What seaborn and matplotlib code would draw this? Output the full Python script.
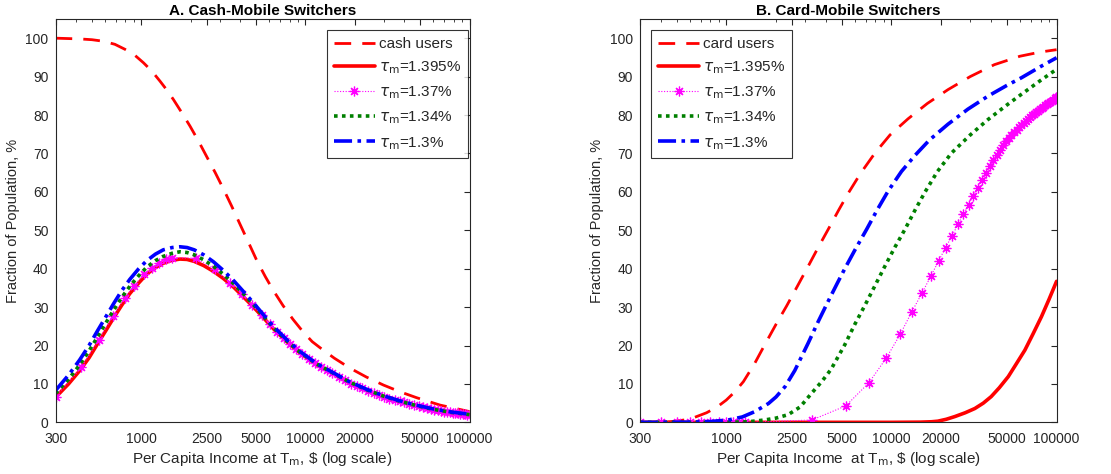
import numpy as np
import pandas as pd
import matplotlib
matplotlib.use("Agg")
import matplotlib.pyplot as plt
import matplotlib.ticker as mticker
import seaborn as sns

# ---------------- data ----------------
# Panel A: cash-mobile switchers
xA = [300, 360, 420, 480, 540, 610, 680, 760, 850, 960, 1080, 1220, 1360, 1540,
      1720, 1900, 2100, 2400, 2750, 3150, 3650, 4200, 4800, 5500, 6400, 7700,
      9300, 11700, 14800, 18500, 23600, 30000, 37600, 47000, 60000, 77000, 100000]
A_1395 = [6.5, 10.0, 13.4, 16.8, 20.4, 24.0, 27.3, 30.5, 33.5, 36.2, 38.6, 40.3,
          41.4, 42.2, 42.5, 42.4, 41.9, 40.8, 39.3, 37.5, 35.2, 32.6, 30.1, 27.4,
          24.3, 21.0, 18.0, 15.0, 12.6, 10.3, 8.3, 6.7, 5.4, 4.3, 3.3, 2.5, 1.9]
A_134 = [7.5, 11.2, 14.9, 18.6, 22.2, 26.0, 29.3, 32.5, 35.4, 38.1, 40.4, 42.1,
         43.2, 44.0, 44.4, 44.2, 43.6, 42.3, 40.6, 38.6, 36.1, 33.4, 30.7, 27.8,
         24.6, 21.2, 18.2, 15.2, 12.8, 10.5, 8.5, 6.8, 5.5, 4.4, 3.4, 2.6, 2.0]
A_13 = [8.3, 12.3, 16.2, 20.0, 23.8, 27.6, 31.0, 34.3, 37.2, 39.9, 42.1, 43.8,
        44.9, 45.5, 45.7, 45.5, 44.9, 43.6, 41.8, 39.6, 36.9, 34.0, 31.2, 28.2,
        24.9, 21.5, 18.4, 15.3, 12.9, 10.6, 8.6, 6.9, 5.6, 4.5, 3.5, 2.7, 2.1]
cash_x = [300, 423, 500, 587, 690, 795, 910, 1030, 1160, 1300, 1430, 1570, 1770,
          1980, 2230, 2500, 2820, 3160, 3550, 4000, 4500, 5070, 5700, 6400, 7300,
          8400, 9700, 11000, 12300, 15000, 18700, 23500, 29900, 38000, 47700,
          66000, 100000]
cash_users = [100.0, 99.8, 99.6, 99.2, 98.4, 97.1, 95.6, 93.6, 91.4, 88.8, 86.5,
              84.0, 80.5, 77.1, 73.2, 69.2, 65.0, 60.8, 56.3, 51.5, 46.8, 42.0,
              37.9, 34.2, 30.4, 26.8, 23.5, 21.0, 19.4, 16.7, 14.1, 11.8, 9.7,
              7.9, 6.4, 4.5, 2.8]
A137_x = [300, 430, 550, 670, 790, 900, 1040, 1160, 1290, 1410, 1530, 2150, 2810,
          3480, 4100, 4750, 5400, 6050, 6700, 7400, 8100, 8800, 9500, 10500,
          11500, 12500, 13500, 14500, 16000, 17500, 19000, 20500, 22000, 24000,
          26000, 28000, 30000, 32500, 35000, 37500, 40000, 43000, 46000, 49000,
          52000, 55000, 58000, 61000, 64000, 67000, 70000, 73000, 76000, 79000,
          82000, 85000, 88000, 91000, 94000, 97000, 100000]
A_137 = [6.7, 14.3, 21.5, 27.6, 32.3, 35.5, 38.6, 40.3, 41.6, 42.4, 42.9, 42.7,
         39.8, 36.3, 33.3, 30.6, 28.0, 25.7, 23.6, 21.9, 20.4, 19.1, 17.9, 16.6,
         15.4, 14.5, 13.6, 12.9, 11.9, 10.9, 10.1, 9.5, 8.9, 8.2, 7.6, 7.1, 6.7,
         6.2, 5.8, 5.5, 5.2, 4.8, 4.5, 4.2, 3.9, 3.7, 3.5, 3.3, 3.1, 3.0, 2.8,
         2.7, 2.6, 2.5, 2.4, 2.3, 2.2, 2.1, 2.05, 2.0, 1.95]

# Panel B: card-mobile switchers
card_x = [300, 450, 600, 760, 880, 1000, 1130, 1270, 1480, 1710, 2000, 2320, 2700,
          3130, 3600, 4150, 4800, 5470, 6500, 7950, 9800, 12600, 16500, 22000,
          30000, 42000, 60000, 80000, 100000]
card_users = [0.0, 0.1, 0.8, 2.5, 4.0, 5.8, 8.0, 10.6, 15.2, 20.2, 25.5, 30.3,
              35.5, 40.6, 45.5, 50.3, 55.3, 59.6, 64.8, 70.1, 74.8, 79.0, 83.0,
              86.6, 90.0, 93.1, 95.3, 96.4, 97.0]
B13_x = [300, 600, 800, 1025, 1250, 1490, 1800, 2000, 2270, 2600, 3130, 3600,
         4150, 4700, 5220, 6000, 7090, 8200, 9550, 11500, 13900, 17000, 22000,
         29000, 38400, 50000, 61300, 80000, 100000]
B_13 = [0.0, 0.05, 0.2, 0.6, 1.4, 2.8, 4.9, 6.6, 9.3, 13.5, 20.6, 26.2, 31.6,
        36.2, 40.0, 44.8, 50.3, 55.3, 60.2, 65.3, 69.5, 73.5, 77.6, 81.5, 84.9,
        87.7, 89.7, 92.6, 94.9]
B134_x = [300, 800, 1100, 1360, 1700, 2000, 2370, 2800, 3290, 3800, 4310, 5220,
          6000, 6900, 8000, 9120, 10500, 12100, 14000, 16000, 19000, 23100, 30000,
          38400, 50000, 61300, 80000, 100000]
B_134 = [0.0, 0.0, 0.05, 0.15, 0.6, 1.1, 2.0, 4.0, 7.6, 10.7, 13.8, 20.2, 25.5,
         30.4, 35.8, 40.6, 45.6, 50.3, 55.5, 60.0, 65.3, 70.1, 74.8, 78.8, 82.6,
         85.4, 89.0, 91.9]
B1395_x = [300, 10000, 15000, 17500, 19100, 21500, 24200, 28000, 32000, 36000,
           40200, 45000, 51000, 57000, 64300, 72000, 81000, 90000, 100000]
B_1395 = [0.0, 0.0, 0.05, 0.15, 0.3, 0.8, 1.5, 2.5, 3.6, 5.0, 6.7, 9.0, 11.9,
          15.2, 18.8, 23.0, 27.5, 32.0, 36.7]
B137_x = [300, 400, 500, 600, 700, 800, 900, 1000, 1100, 1200, 1300, 3300, 5300,
          7300, 9300, 11300, 13300, 15300, 17300, 19300, 21300, 23300, 25300,
          27300, 29300, 31300, 33300, 35300, 37300, 39300, 41300, 43300, 45300,
          47300, 49300, 51300, 53300, 55300, 57300, 59300, 61300, 63300, 65300,
          67300, 69300, 71300, 73300, 75300, 77300, 79300, 81300, 83300, 85300,
          87300, 89300, 91300, 93300, 95300, 97300, 99300]
B_137 = [0, 0, 0, 0, 0, 0, 0, 0, 0, 0, 0, 0.6, 4.3, 10.3, 16.7, 22.9, 28.8, 33.6,
         38.0, 42.0, 45.5, 48.6, 51.5, 54.2, 56.7, 59.0, 61.1, 63.1, 64.9, 66.6,
         68.2, 69.6, 70.9, 72.1, 73.2, 74.0, 74.8, 75.5, 76.2, 76.8, 77.4, 78.0,
         78.5, 79.0, 79.5, 79.9, 80.3, 80.7, 81.1, 81.5, 81.9, 82.2, 82.5, 82.8,
         83.1, 83.4, 83.7, 84.0, 84.3, 84.6]

xticks = [300, 1000, 2500, 5000, 10000, 20000, 50000, 100000]
xticklabels = ["300", "1000", "2500", "5000", "10000", "20000", "50000", "100000"]
yticks = list(range(0, 101, 10))

# ---------------- style ----------------
sns.set_style("white")
plt.rcParams['font.family'] = ['Liberation Sans', 'DejaVu Sans']
plt.rcParams['mathtext.fontset'] = 'dejavusans'
txt = '#262626'

fig = plt.figure(figsize=(11.11, 4.74), dpi=100)
axA = fig.add_axes([0.050, 0.109, 0.3726, 0.851])
axB = fig.add_axes([0.576, 0.109, 0.375, 0.851])

def draw(ax, x, y, label, **kw):
    sns.lineplot(x=x, y=y, ax=ax, label=label, sort=False, estimator=None, **kw)

lbl = [r'$\tau_{\rm m}$=1.395%', r'$\tau_{\rm m}$=1.37%', r'$\tau_{\rm m}$=1.34%', r'$\tau_{\rm m}$=1.3%']
dash_red = (0, (6, 4))
dot_green = (0, (1, 1.2))
dashdot_blue = (0, (5, 1.5, 1, 1.5))
mag_kw = dict(color='#ff00ff', linestyle=(0, (1, 1.5)), linewidth=0.8,
              marker=(8, 2, 0), markersize=7, markeredgewidth=0.9,
              markeredgecolor='#ff00ff', markerfacecolor='#ff00ff')

# Panel A
draw(axA, cash_x, cash_users, 'cash users', color='#ff0000', linestyle=dash_red, linewidth=2)
draw(axA, xA, A_1395, lbl[0], color='#ff0000', linestyle='-', linewidth=2.6)
draw(axA, A137_x, A_137, lbl[1], **mag_kw)
draw(axA, xA, A_134, lbl[2], color='#008000', linestyle=dot_green, linewidth=2.6)
draw(axA, xA, A_13, lbl[3], color='#0000ff', linestyle=dashdot_blue, linewidth=2.6)

# Panel B
draw(axB, card_x, card_users, 'card users', color='#ff0000', linestyle=dash_red, linewidth=2)
draw(axB, B1395_x, B_1395, lbl[0], color='#ff0000', linestyle='-', linewidth=2.6)
draw(axB, B137_x, B_137, lbl[1], **mag_kw)
draw(axB, B134_x, B_134, lbl[2], color='#008000', linestyle=dot_green, linewidth=2.6)
draw(axB, B13_x, B_13, lbl[3], color='#0000ff', linestyle=dashdot_blue, linewidth=2.6)

for ax, title, xl, loc, anchor in [
    (axA, 'A. Cash-Mobile Switchers', r'Per Capita Income at T$_{\rm m}$, \$ (log scale)',
     'upper right', (0.996, 0.972)),
    (axB, 'B. Card-Mobile Switchers', r'Per Capita Income  at T$_{\rm m}$, \$ (log scale)',
     'upper left', (0.027, 0.972))]:
    ax.set_xscale('log')
    ax.set_xlim(300, 100000)
    ax.set_ylim(0, 105)
    ax.set_xticks(xticks)
    ax.set_xticklabels(xticklabels)
    ax.xaxis.set_minor_locator(mticker.LogLocator(base=10, subs=np.arange(2, 10)))
    ax.xaxis.set_minor_formatter(mticker.NullFormatter())
    ax.set_yticks(yticks)
    ax.tick_params(axis='both', which='both', direction='in', top=True, right=True,
                   colors=txt, labelsize=10)
    ax.tick_params(axis='x', which='major', pad=7)
    ax.tick_params(axis='y', which='major', pad=5)
    ax.tick_params(which='major', length=4, width=0.8)
    ax.tick_params(which='minor', length=2, width=0.6)
    for s in ax.spines.values():
        s.set_visible(True)
        s.set_color(txt)
        s.set_linewidth(0.8)
    ax.set_title(title, fontsize=11, fontweight='bold', color='black', pad=3)
    ax.set_xlabel(xl, fontsize=11, color=txt, labelpad=3)
    ax.set_ylabel('Fraction of Population, %', fontsize=10.5, color=txt, labelpad=4)
    leg = ax.legend(loc=loc, bbox_to_anchor=anchor, fontsize=11, frameon=True,
                    fancybox=False, edgecolor='black', handlelength=2.7,
                    borderpad=0.45, labelspacing=0.55, handletextpad=0.25,
                    borderaxespad=0.0)
    leg.get_frame().set_linewidth(0.8)
    ax.grid(False)

fig.savefig('out.png', dpi=100, facecolor='white')
